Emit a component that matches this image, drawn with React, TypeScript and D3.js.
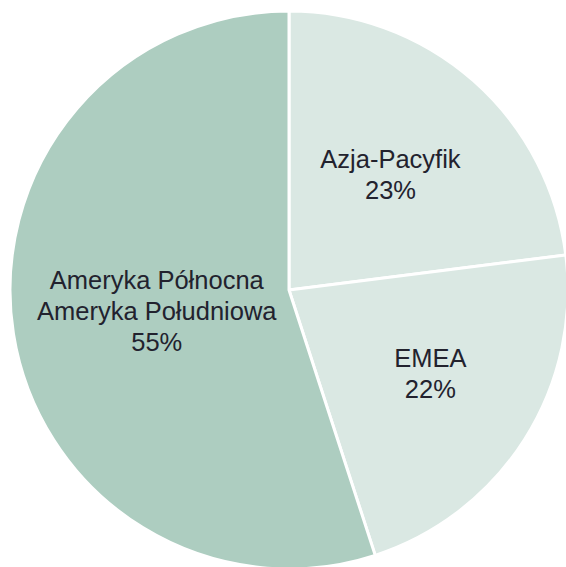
import React from "react";
import * as d3 from "d3";

const categories: string[][] = [
  ["Azja-Pacyfik"],
  ["EMEA"],
  ["Ameryka Północna", "Ameryka Południowa"],
];
const values: number[] = [23, 22, 55];
const colors: string[] = ["#dae8e3", "#dae8e3", "#adcdc0"];
// label distance from centre, as a fraction of the radius (layout styling)
const labelRadius: number[] = [0.55, 0.6, 0.48];

const W = 566;
const H = 567;
const CX = 289;
const CY = 290;
const R = 279;
const FONT = 25.5;
const LINE = 31;

export default function App() {
  const pie = d3.pie<number>().sort(null).value((d) => d);
  const arcs = pie(values);
  const arc = d3.arc<d3.PieArcDatum<number>>().innerRadius(0).outerRadius(R);
  const total = d3.sum(values);

  return (
    <svg
      width={W}
      height={H}
      style={{ position: "absolute", left: 0, top: 0, overflow: "hidden" }}
    >
      <g transform={`translate(${CX},${CY})`}>
        {arcs.map((a, i) => (
          <path
            key={i}
            d={arc(a) || ""}
            fill={colors[i]}
            stroke="#ffffff"
            strokeWidth={3}
            strokeLinejoin="round"
          />
        ))}
        {arcs.map((a, i) => {
          const lr = R * labelRadius[i];
          const [x, y] = d3
            .arc<d3.PieArcDatum<number>>()
            .innerRadius(lr)
            .outerRadius(lr)
            .centroid(a);
          const lines = [
            ...categories[i],
            `${Math.round((values[i] / total) * 100)}%`,
          ];
          const y0 = y - ((lines.length - 1) * LINE) / 2 + FONT * 0.35 - (i === 1 ? 6 : 0);
          return (
            <text
              key={i}
              textAnchor="middle"
              fontFamily="'Liberation Sans', Arial, Helvetica, sans-serif"
              fontSize={FONT}
              fill="#22222e"
            >
              {lines.map((l, j) => (
                <tspan key={j} x={x} y={y0 + j * LINE}>
                  {l}
                </tspan>
              ))}
            </text>
          );
        })}
      </g>
    </svg>
  );
}
